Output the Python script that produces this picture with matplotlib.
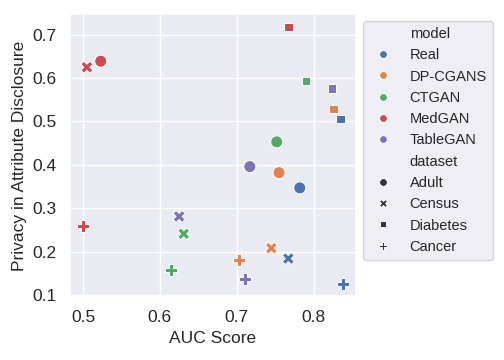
import matplotlib
matplotlib.use("Agg")
import matplotlib.pyplot as plt
import seaborn as sns
import pandas as pd

models = ["Real", "DP-CGANS", "CTGAN", "MedGAN", "TableGAN"]
datasets = ["Adult", "Census", "Diabetes", "Cancer"]

# rows: model, cols: dataset (Adult, Census, Diabetes, Cancer)
auc = {
    "Real":     [0.782, 0.767, 0.835, 0.838],
    "DP-CGANS": [0.755, 0.745, 0.826, 0.703],
    "CTGAN":    [0.752, 0.631, 0.790, 0.614],
    "MedGAN":   [0.523, 0.505, 0.767, 0.500],
    "TableGAN": [0.717, 0.625, 0.824, 0.711],
}
privacy = {
    "Real":     [0.347, 0.184, 0.506, 0.125],
    "DP-CGANS": [0.382, 0.208, 0.529, 0.181],
    "CTGAN":    [0.453, 0.241, 0.593, 0.157],
    "MedGAN":   [0.639, 0.625, 0.718, 0.258],
    "TableGAN": [0.396, 0.281, 0.576, 0.136],
}

rows = []
for m in models:
    for i, d in enumerate(datasets):
        rows.append({"model": m, "dataset": d, "auc": auc[m][i], "privacy": privacy[m][i]})
df = pd.DataFrame(rows)

sns.set_theme(style="darkgrid")
plt.rcParams["font.family"] = ["Liberation Sans", "DejaVu Sans"]
fig, ax = plt.subplots(figsize=(5.04, 3.6), dpi=100)
sns.scatterplot(data=df, x="auc", y="privacy", hue="model", style="dataset", s=75, ax=ax)
ax.set_xlabel("AUC Score", fontsize=12.5)
ax.set_ylabel("Privacy in Attribute Disclosure", fontsize=12.5)
ax.tick_params(labelsize=12.5)
ax.legend(loc="upper left", bbox_to_anchor=(1.025, 0.975), borderaxespad=0,
          fontsize=10.5, markerscale=0.65, labelspacing=0.5)
fig.subplots_adjust(left=0.139, right=0.706, top=0.961, bottom=0.175)
fig.savefig("out.png")
